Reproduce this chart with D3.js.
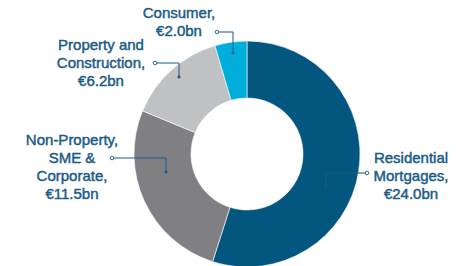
<!DOCTYPE html>
<html>
<head>
    <meta charset="utf-8">
    <script src="https://d3js.org/d3.v7.min.js"></script>
    <style>
        body { margin: 0; background: #fff; }
        text { font-family: "Liberation Sans", Arial, sans-serif; }
    </style>
</head>
<body>
    <div id="chart"></div>
    <script>
        // segments, clockwise from 12 o'clock
        var categories = ["Residential Mortgages", "Non-Property, SME & Corporate", "Property and Construction", "Consumer"];
        var values = [24.0, 11.5, 6.2, 2.0];
        var labelLines = [
            ["Residential", "Mortgages,", "€24.0bn"],
            ["Non-Property,", "SME &", "Corporate,", "€11.5bn"],
            ["Property and", "Construction,", "€6.2bn"],
            ["Consumer,", "€2.0bn"]
        ];
        var colors = ["#02567f", "#808084", "#c0c1c3", "#00aedb"];

        var width = 463, height = 266;
        var cx = 247, cy = 154, outerR = 113, innerR = 56;

        // label layout: text centre x, first baseline, leader circle, leader elbow/dot
        var labelPos = [
            {x: 411, y: 163, cx: 367, cy: 173, ex: 326, ey: 186},
            {x: 72,  y: 145, cx: 112, cy: 158, ex: 166, ey: 172},
            {x: 101, y: 50,  cx: 155, cy: 63,  ex: 179, ey: 77},
            {x: 179, y: 18,  cx: 217, cy: 32,  ex: 233, ey: 53}
        ];

        var svg = d3.select("#chart").append("svg")
            .attr("width", width)
            .attr("height", height);

        var data = categories.map(function (c, i) { return {name: c, value: values[i], i: i}; });

        var pie = d3.pie().sort(null).value(function (d) { return d.value; });
        var arc = d3.arc().innerRadius(innerR).outerRadius(outerR);

        var g = svg.append("g").attr("transform", "translate(" + cx + "," + cy + ")");
        g.selectAll("path")
            .data(pie(data))
            .enter()
            .append("path")
            .attr("d", arc)
            .attr("fill", function (d) { return colors[d.data.i]; })
            .attr("stroke", "#fff")
            .attr("stroke-width", 0.6);

        var ink = "#1a5a87";

        // leader lines
        labelPos.forEach(function (p) {
            svg.append("path")
                .attr("d", "M" + p.cx + "," + p.cy + "H" + p.ex + "V" + p.ey)
                .attr("fill", "none")
                .attr("stroke", ink)
                .attr("stroke-width", 1);
            svg.append("circle")
                .attr("cx", p.cx).attr("cy", p.cy).attr("r", 1.8)
                .attr("fill", "#fff").attr("stroke", ink).attr("stroke-width", 0.9);
            svg.append("circle")
                .attr("cx", p.ex).attr("cy", p.ey).attr("r", 1.5)
                .attr("fill", ink);
        });

        // labels
        labelLines.forEach(function (lines, i) {
            var p = labelPos[i];
            var t = svg.append("text")
                .attr("text-anchor", "middle")
                .attr("fill", ink)
                .attr("stroke", ink)
                .attr("stroke-width", 0.45)
                .style("font-size", "15px");
            lines.forEach(function (l, j) {
                t.append("tspan")
                    .attr("x", p.x)
                    .attr("y", p.y + j * 18)
                    .text(l);
            });
        });
    </script>
</body>
</html>
